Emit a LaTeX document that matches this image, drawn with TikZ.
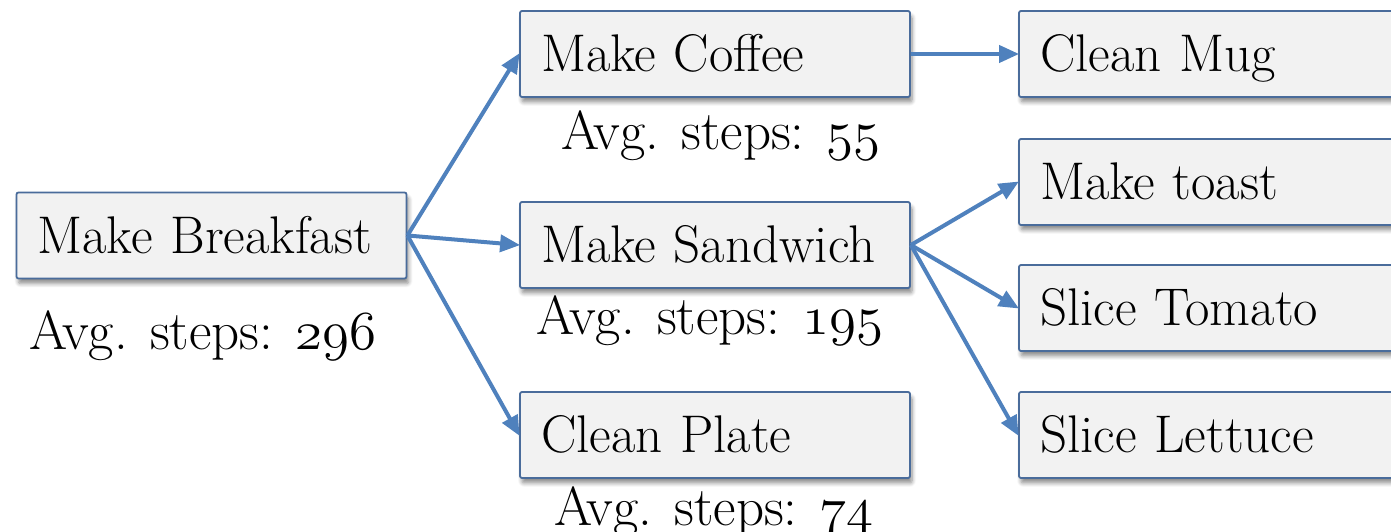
\RequirePackage{fix-cm}
\documentclass[tikz,border=0pt]{standalone}
\usepackage{fontspec}
\usetikzlibrary{arrows.meta,shadows.blur}
\definecolor{boxfill}{HTML}{F2F2F2}
\definecolor{boxline}{HTML}{4A6C9B}
\definecolor{arrowblue}{HTML}{4F81BD}
\newcommand{\osn}[1]{$\mathnormal{#1}$}
\tikzset{
  taskbox/.style={draw=boxline, fill=boxfill, line width=1.8pt, rounded corners=2pt,
    minimum width=390pt, minimum height=86pt, inner xsep=21pt, inner ysep=0pt,
    text width=348pt, align=left, text height=36pt, text depth=0pt,
    font=\fontsize{53}{62}\selectfont,
    blur shadow={shadow xshift=2pt, shadow yshift=-5pt, shadow blur steps=6, shadow blur radius=4pt, shadow opacity=45}},
  steplabel/.style={inner sep=0pt, font=\fontsize{55}{64}\selectfont},
  flow/.style={draw=arrowblue, line width=4pt, -{Triangle[length=20pt,width=17pt]}, shorten >=-1pt},
}
\begin{document}
\begin{tikzpicture}[x=1pt,y=1pt]
\useasboundingbox (0,0) rectangle (1391,532);
% first level
\node[taskbox] (bf) at (211.5,296.5) {Make Breakfast};
% second level
\node[taskbox] (coffee)   at (715,478) {Make Coffee};
\node[taskbox] (sandwich) at (715,287) {Make Sandwich};
\node[taskbox] (plate)    at (715,97)  {Clean Plate};
% third level
\node[taskbox] (mug)     at (1214,478) {Clean Mug};
\node[taskbox] (toast)   at (1214,350) {Make toast};
\node[taskbox] (tomato)  at (1214,224) {Slice Tomato};
\node[taskbox] (lettuce) at (1214,97)  {Slice Lettuce};
% step counts
\node[steplabel, anchor=base] (sbf) at (203,182) {Avg. steps: \osn{296}};
\node[steplabel, anchor=base] (sco) at (721,382) {Avg. steps: \osn{55}};
\node[steplabel, anchor=base] (ssa) at (710,197) {Avg. steps: \osn{195}};
\node[steplabel, anchor=base] (spl) at (714,6)   {Avg. steps: \osn{74}};
% connectors
\draw[flow] (bf.east) -- (coffee.west);
\draw[flow] (bf.east) -- (sandwich.west);
\draw[flow] (bf.east) -- (plate.west);
\draw[flow] (coffee.east) -- (mug.west);
\draw[flow] (sandwich.east) -- (toast.west);
\draw[flow] (sandwich.east) -- (tomato.west);
\draw[flow] (sandwich.east) -- (lettuce.west);
\end{tikzpicture}
\end{document}
